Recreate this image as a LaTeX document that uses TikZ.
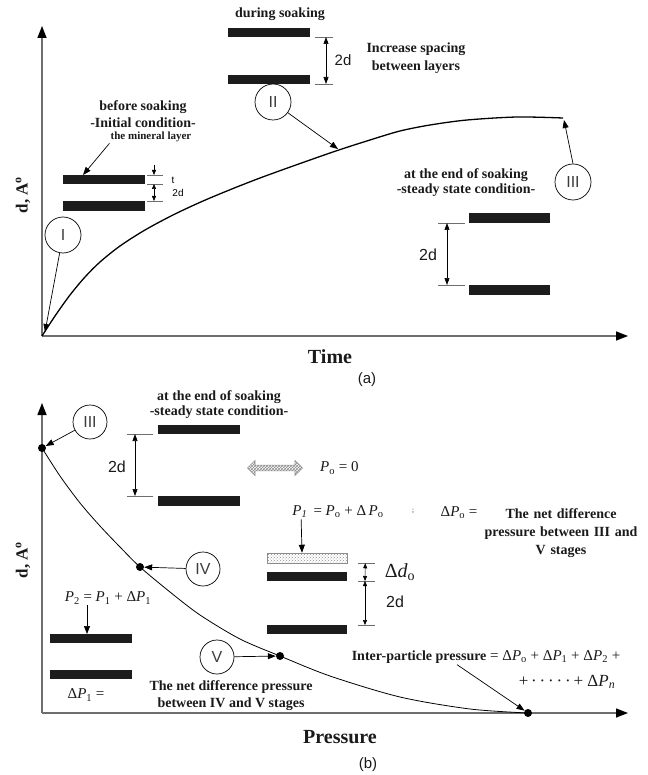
\documentclass[tikz,border=0pt]{standalone}
\usepackage{fontspec}
\setmainfont{Liberation Serif}
\setsansfont{Liberation Sans}
\usetikzlibrary{arrows.meta,positioning,shapes.arrows,patterns}
\definecolor{ink}{HTML}{1A1A1A}
\definecolor{axisgray}{HTML}{6E6E6E}
\definecolor{barblack}{HTML}{1C1C1C}
\definecolor{hatchgray}{HTML}{8C8C8C}
\newcommand{\Pq}[1]{\textit{P}\textsubscript{#1}}
\tikzset{
  axisline/.style={draw=axisgray,line width=1.4pt,-{Triangle[length=12pt,width=9pt,color=black]}},
  axislbl/.style={font=\bfseries\fontsize{20}{22}\selectfont,text=ink,inner sep=1pt},
  caption/.style={font=\sffamily\fontsize{15}{16}\selectfont,text=ink,inner sep=1pt},
  note/.style={font=\bfseries\fontsize{14}{18}\selectfont,text=ink,align=center,inner sep=1pt},
  smallnote/.style={note,font=\bfseries\fontsize{11}{13}\selectfont},
  eqn/.style={font=\fontsize{15}{17}\selectfont,text=ink,inner sep=1pt},
  sizelbl/.style={font=\sffamily\fontsize{16}{16}\selectfont,text=ink,inner sep=1pt},
  layer/.style={fill=barblack,minimum width=82pt,minimum height=9pt,inner sep=0pt,outer sep=0pt},
  stage/.style={circle,draw=black,line width=0.7pt,minimum size=36pt,inner sep=0pt,font=\sffamily\fontsize{16}{16}\selectfont,text=ink!85},
  stagedot/.style={circle,fill=black,inner sep=0pt,minimum size=8pt},
  ptr/.style={-{Triangle[length=8pt,width=6pt]},line width=0.7pt},
  dimline/.style={{Triangle[length=7pt,width=5pt]}-{Triangle[length=7pt,width=5pt]},line width=0.6pt},
  dimhalf/.style={-{Triangle[length=5pt,width=4pt]},line width=0.5pt},
  dimsmall/.style={{Triangle[length=5pt,width=4pt]}-{Triangle[length=5pt,width=4pt]},line width=0.5pt},
  extline/.style={line width=0.6pt,draw=axisgray}
}
\begin{document}
\begin{tikzpicture}[x=1pt,y=-1pt]
\useasboundingbox (0,0) rectangle (647,775);

% ---------- (a) spacing against time ----------
\coordinate (oA) at (42,336);
\coordinate (yA) at (42,26);
\coordinate (xA) at (628,336);
\draw[axisline] (oA) -- (yA);
\draw[axisline] (oA) -- (xA);
\node[axislbl] (timeA) at (330,357) {Time};
\node[axislbl,font=\bfseries\fontsize{17}{18}\selectfont,rotate=90] (dA) at (23,195) {d, A\textsuperscript{o}};
\node[caption] (capA) at (367,380) {(a)};

\draw[line width=1.3pt] plot[smooth] coordinates {(42,336) (55,316) (70,295) (85,277) (100,262) (120,246) (145,230) (175,214) (210,198) (260,178) (330,153) (370,140) (400,131) (430,125) (467,120) (517,117) (563,118)};
\coordinate (cI) at (45,332);
\coordinate (cII) at (338,149);
\coordinate (cIII) at (564,120);

% before soaking
\node[note] (befA) at (143,107) {before soaking};
\node[note,below=2pt of befA] (initA) {-Initial condition-};
\node[smallnote,below=2pt of initA,xshift=8pt] (mineral) {the mineral layer};
\node[layer] (bb1) at (104,179.5) {};
\node[layer,minimum height=10pt] (bb2) at (104,206) {};
\draw[ptr] (mineral.south west) -- ([xshift=20pt]bb1.north west);
\draw[extline] ([xshift=2pt]bb1.north east) -- ++(16,0);
\draw[extline] ([xshift=2pt]bb1.south east) -- ++(16,0);
\draw[extline] ([xshift=2pt]bb2.north east) -- ++(16,0);
\draw[dimhalf] ([xshift=9pt,yshift=10pt]bb1.north east) -- ([xshift=9pt]bb1.north east);
\draw[dimsmall] ([xshift=9pt]bb1.south east) -- ([xshift=9pt]bb2.north east);
\node[font=\sffamily\fontsize{10}{10}\selectfont,inner sep=0pt] (tA) at (173,180) {t};
\node[font=\sffamily\fontsize{10}{10}\selectfont,inner sep=0pt] (twoA) at (178,193) {2d};
\node[stage] (sI) at (63,235) {I};
\draw[ptr] (sI) -- (cI);

% during soaking
\node[note] (durA) at (280,14) {during soaking};
\node[layer] (ds1) at (269,32.5) {};
\node[layer] (ds2) at (269,79.5) {};
\draw[extline] ([xshift=5pt]ds1.south east) -- ++(18,0);
\draw[extline] ([xshift=5pt]ds2.south east) -- ++(18,0);
\draw[dimline] ([xshift=16pt]ds1.south east) -- ([xshift=16pt]ds2.south east);
\node[sizelbl,font=\sffamily\fontsize{15}{15}\selectfont] (twoB) at (343,60) {2d};
\node[note] (incA) at (416,58) {Increase spacing\\between layers};
\node[stage] (sII) at (273,102) {II};
\draw[ptr] (sII) -- (cII);

% end of soaking
\node[note] (endA) at (466,175) {at the end of soaking};
\node[note,below=0pt of endA] (steadyA) {-steady state condition-};
\node[layer,minimum width=81pt,minimum height=10pt] (es1) at (509.5,218) {};
\node[layer,minimum width=81pt,minimum height=10pt] (es2) at (509.5,290) {};
\draw[extline] ([xshift=-4pt]es1.south west) -- ++(-27,0);
\draw[extline] ([xshift=-4pt]es2.north west) -- ++(-27,0);
\draw[dimline] ([xshift=-22pt]es1.south west) -- ([xshift=-22pt]es2.north west);
\node[sizelbl] (twoC) at (428,255) {2d};
\node[stage] (sIII) at (573,182) {III};
\draw[ptr] (sIII.north) -- (cIII);

% ---------- (b) spacing against pressure ----------
\coordinate (oB) at (42,713);
\coordinate (yB) at (42,403);
\coordinate (xB) at (628,713);
\draw[axisline] (oB) -- (yB);
\draw[axisline] (oB) -- (xB);
\node[axislbl] (presB) at (340,737) {Pressure};
\node[axislbl,font=\bfseries\fontsize{17}{18}\selectfont,rotate=90] (dB) at (23,560) {d, A\textsuperscript{o}};
\node[caption] (capB) at (368,765) {(b)};

\draw[line width=0.8pt] plot[smooth] coordinates {(42,448) (60,476) (80,503) (100,526) (120,547) (140,567) (170,592) (200,615) (240,639) (280,656) (330,676) (400,697) (470,709) (528,713)};
\node[stagedot] (d3) at (42,448) {};
\node[stagedot] (d4) at (140,567) {};
\node[stagedot] (d5) at (280,656) {};
\node[stagedot] (dn) at (528,713) {};

\node[stage,minimum size=34pt] (sIIIb) at (90,422) {III};
\node[stage,minimum size=34pt] (sIV) at (203,569) {IV};
\node[stage,minimum size=34pt] (sV) at (217,657) {V};
\draw[ptr] (sIIIb) -- (d3);
\draw[ptr] (sIV) -- (d4);
\draw[ptr] (sV) -- (d5);

% steady state layers
\node[note] (endB) at (219,397) {at the end of soaking};
\node[note,below=0pt of endB] (steadyB) {-steady state condition-};
\node[layer] (bs1) at (199,429.5) {};
\node[layer,minimum height=10pt] (bs2) at (199,501) {};
\draw[extline] ([xshift=-5pt]bs1.south west) -- ++(-26,0);
\draw[extline] ([xshift=-5pt]bs2.north west) -- ++(-26,0);
\draw[dimline] ([xshift=-23pt]bs1.south west) -- ([xshift=-23pt]bs2.north west);
\node[sizelbl] (twoD) at (117,467) {2d};
\node[double arrow,draw=hatchgray,line width=0.6pt,pattern=crosshatch,pattern color=hatchgray,
  minimum width=15pt,minimum height=55pt,double arrow head extend=3pt,inner sep=1.5pt] (hx) at (275,468) {};
\node[eqn,anchor=west] (p0) at (319,468) {\Pq{o} = 0};

% loaded layers
\node[eqn] (p1eq) at (338,512) {\Pq{\textit{1}} \,= \Pq{o} + Δ\,\Pq{o}};
\node[font=\fontsize{7}{7}\selectfont,inner sep=0pt] (sep) at (413,511) {;};
\node[eqn] (dp0) at (459,513) {Δ\Pq{o} =};
\node[note,text width=175pt] (net0) at (561,533) {The net difference\\pressure between III and\\V stages};
\node[draw=hatchgray,line width=0.5pt,pattern=crosshatch dots,pattern color=hatchgray,
  minimum width=80pt,minimum height=10pt,inner sep=0pt] (hb) at (307,558) {};
\node[layer,minimum width=80pt] (mb1) at (307,576.5) {};
\node[layer,minimum width=80pt] (mb2) at (307,629.5) {};
\draw[ptr] ([xshift=10pt]p1eq.south west) -- ([xshift=-5pt]hb.north);
\draw[extline] ([xshift=11pt]hb.south east) -- ++(17,0);
\draw[extline] ([xshift=11pt]mb1.south east) -- ++(17,0);
\draw[extline] ([xshift=11pt]mb2.north east) -- ++(17,0);
\draw[dimsmall] ([xshift=18pt]hb.south east) -- ([xshift=18pt]mb1.south east);
\draw[dimsmall] ([xshift=18pt]mb1.south east) -- ([xshift=18pt]mb2.north east);
\node[eqn,font=\fontsize{20}{20}\selectfont] (ddel) at (400,572) {Δ\textit{d}\textsubscript{o}};
\node[sizelbl] (twoE) at (395,602) {2d};

% layers at stage IV
\node[eqn] (p2eq) at (108,598) {\Pq{2} = \Pq{1} + Δ\Pq{1}};
\node[layer] (lb1) at (91,638.5) {};
\node[layer] (lb2) at (91,674.5) {};
\draw[ptr] ([xshift=-21pt]p2eq.south) -- ([xshift=37pt]lb1.north west);
\node[eqn] (dp1) at (86,695) {Δ\Pq{1} =};
\node[note,font=\bfseries\fontsize{14}{17}\selectfont] (net1) at (231,696) {The net difference pressure\\between IV and V stages};

% inter-particle pressure
\node[eqn,font=\fontsize{15}{17}\selectfont] (ipl) at (486,657) {{\bfseries\fontsize{14}{17}\selectfont Inter-particle pressure} = Δ\Pq{o} + Δ\Pq{1} + Δ\Pq{2} +};
\node[eqn,font=\fontsize{17}{17}\selectfont] (ipl2) at (567,682) {+\,·\,·\,·\,·\,·\,+ Δ\Pq{\textit{n}}};
\draw[ptr] ([xshift=-29pt]ipl.south) -- (dn);
\end{tikzpicture}
\end{document}
